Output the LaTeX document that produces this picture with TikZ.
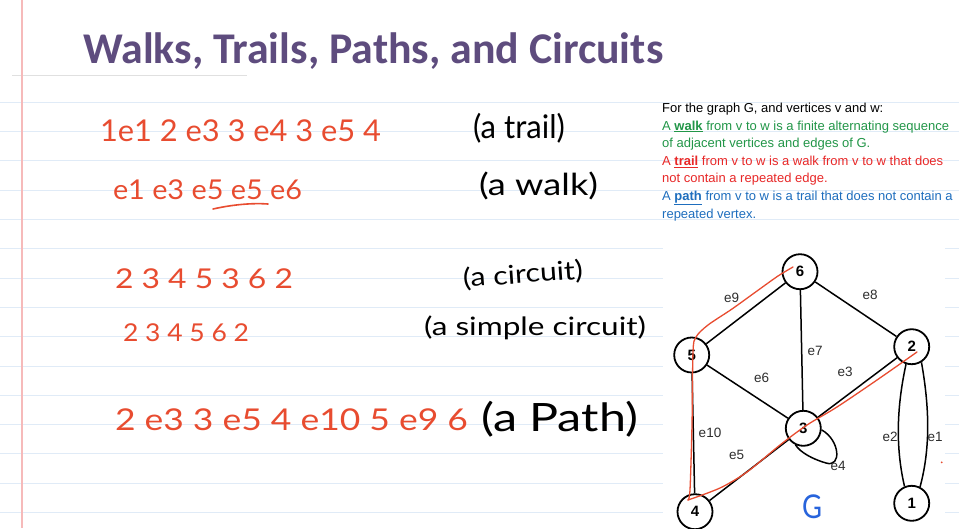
\documentclass[tikz,border=0pt]{standalone}
\usepackage{fontspec}
\usepackage{graphicx}
\setmainfont{Liberation Sans}
\newfontfamily\titlefont{Carlito}
\newfontfamily\handfont{Lato}
\definecolor{penred}{RGB}{232,76,48}
\definecolor{titlepurple}{RGB}{94,76,126}
\definecolor{defgreen}{RGB}{34,150,72}
\definecolor{defred}{RGB}{232,40,40}
\definecolor{defblue}{RGB}{30,110,190}
\definecolor{ruleblue}{RGB}{224,235,247}
\definecolor{marginred}{RGB}{246,186,186}
\definecolor{penblue}{RGB}{40,100,220}
\definecolor{labelgrey}{RGB}{45,45,45}
\newcommand\hw[3]{\resizebox*{#1pt}{#2pt}{\handfont #3}}
\tikzset{
  hwnode/.style={anchor=south west, inner sep=0pt, outer sep=0pt},
  vertex/.style={circle, draw=black, line width=1.8pt, minimum size=35pt, inner sep=0pt, fill=white, font=\bfseries\fontsize{15}{15}\selectfont},
  edgelab/.style={font=\fontsize{13.5}{13.5}\selectfont, text=labelgrey, inner sep=0pt},
  gedge/.style={line width=1.5pt, draw=black},
  redpen/.style={draw=penred, line width=1.3pt, line cap=round, line join=round},
  defline/.style={anchor=base west, inner sep=0pt, font=\fontsize{13}{13}\selectfont},
}
\begin{document}
\begin{tikzpicture}[x=1pt,y=-1pt]
\useasboundingbox (0,0) rectangle (959,528);
\fill[white] (0,0) rectangle (959,528);
% ruled lines
\foreach \k in {0,...,14} {
  \draw[ruleblue, line width=1pt] (0,{102.3+29.3*\k}) -- (959,{102.3+29.3*\k});
}
\draw[black!12, line width=1pt] (12,75.7) -- (247,75.7);
\draw[marginred, line width=2pt] (22,0) -- (22,528);
% title
\node[anchor=base west, inner sep=0pt, text=titlepurple] (title) at (83,63)
  {\resizebox{580pt}{!}{\titlefont\bfseries Walks, Trails, Paths, and Circuits}};
% handwritten examples
\node[hwnode, text=penred] (l1) at (100,142) {\hw{281}{22}{1e1 2 e3 3 e4 3 e5 4}};
\node[hwnode] (t1) at (473,143) {\hw{92}{30}{(a trail)}};
\node[hwnode, text=penred] (l2) at (113,200) {\hw{189}{20}{e1 e3 e5 e5 e6}};
\draw[redpen, line width=1.6pt] (213,209) .. controls (235,204) and (255,203) .. (268,204);
\node[hwnode] (t2) at (479,200) {\hw{119}{28}{(a walk)}};
\node[hwnode, text=penred] (l3) at (115,289) {\hw{178}{20}{2 3 4 5 3 6 2}};
\node[hwnode, rotate=4] (t3) at (464,291) {\hw{120}{24}{(a circuit)}};
\node[hwnode, text=penred] (l4) at (123,342) {\hw{126}{18}{2 3 4 5 6 2}};
\node[hwnode] (t4) at (424,340) {\hw{222}{24}{(a simple circuit)}};
\node[hwnode, text=penred] (l5) at (115,431) {\hw{353}{22}{2 e3 3 e5 4 e10 5 e9 6}};
\node[hwnode] (t5) at (481,437) {\hw{157}{36}{(a Path)}};
% definitions
\node[defline] (d1) at (662,112.5) {For the graph G, and vertices v and w:};
\node[defline, text=defgreen] (d2) at (662,130.1) {A \underline{\textbf{walk}} from v to w is a finite alternating sequence};
\node[defline, text=defgreen] (d3) at (662,147.7) {of adjacent vertices and edges of G.};
\node[defline, text=defred] (d4) at (662,165.3) {A \underline{\textbf{trail}} from v to w is a walk from v to w that does};
\node[defline, text=defred] (d5) at (662,182.9) {not contain a repeated edge.};
\node[defline, text=defblue] (d6) at (662,200.5) {A \underline{\textbf{path}} from v to w is a trail that does not contain a};
\node[defline, text=defblue] (d7) at (662,218.1) {repeated vertex.};
% graph picture
\fill[white] (663,232) rectangle (945,528);
\node[vertex] (v6) at (800,271.7) {6};
\node[vertex] (v5) at (691.7,355) {5};
\node[vertex] (v2) at (911.7,346.7) {2};
\node[vertex] (v3) at (803.3,428.3) {3};
\node[vertex] (v4) at (695,511.7) {4};
\node[vertex] (v1) at (911.7,503.3) {1};
\draw[gedge] (v6) -- (v2);
\draw[gedge] (v6) -- (v5);
\draw[gedge] (v6) -- (v3);
\draw[gedge] (v5) -- (v3);
\draw[gedge] (v3) -- (v2);
\draw[gedge] (v5) -- (v4);
\draw[gedge] (v4) -- (v3);
\draw[gedge] (v3.-5) .. controls (840,440) and (842,468) .. (826,463) .. controls (812,459) and (800,452) .. (v3.-115);
\draw[gedge] (v2.-108) .. controls (896,410) and (896,450) .. (v1.113);
\draw[gedge] (v2.-58) .. controls (930,410) and (930,450) .. (v1.63);
% edge labels
\node[edgelab] (le9) at (731.7,298.3) {e9};
\node[edgelab] (le8) at (870,295) {e8};
\node[edgelab] (le7) at (815,351) {e7};
\node[edgelab] (le6) at (761.7,378) {e6};
\node[edgelab] (le3) at (845,371.7) {e3};
\node[edgelab] (le10) at (710,433) {e10};
\node[edgelab] (le5) at (736.7,455) {e5};
\node[edgelab] (le4) at (838,466) {e4};
\node[edgelab] (le2) at (890,436.7) {e2};
\node[edgelab] (le1) at (935,436.7) {e1};
\node[inner sep=0pt, text=penblue] (gG) at (812,507) {\hw{20}{24}{G}};
% red overlay
\draw[redpen] plot[smooth, tension=0.5] coordinates {(793,267) (778,276) (757,291) (732,309) (708,325) (696,337) (693,352) (692,425) (690,490) (688,500)};
\draw[redpen] plot[smooth, tension=0.5] coordinates {(688,500) (720,488) (747,472) (780,445) (807,425) (837,407) (877,380) (917,352)};
\fill[penred] (941.7,462.3) circle (1pt);
\end{tikzpicture}
\end{document}
